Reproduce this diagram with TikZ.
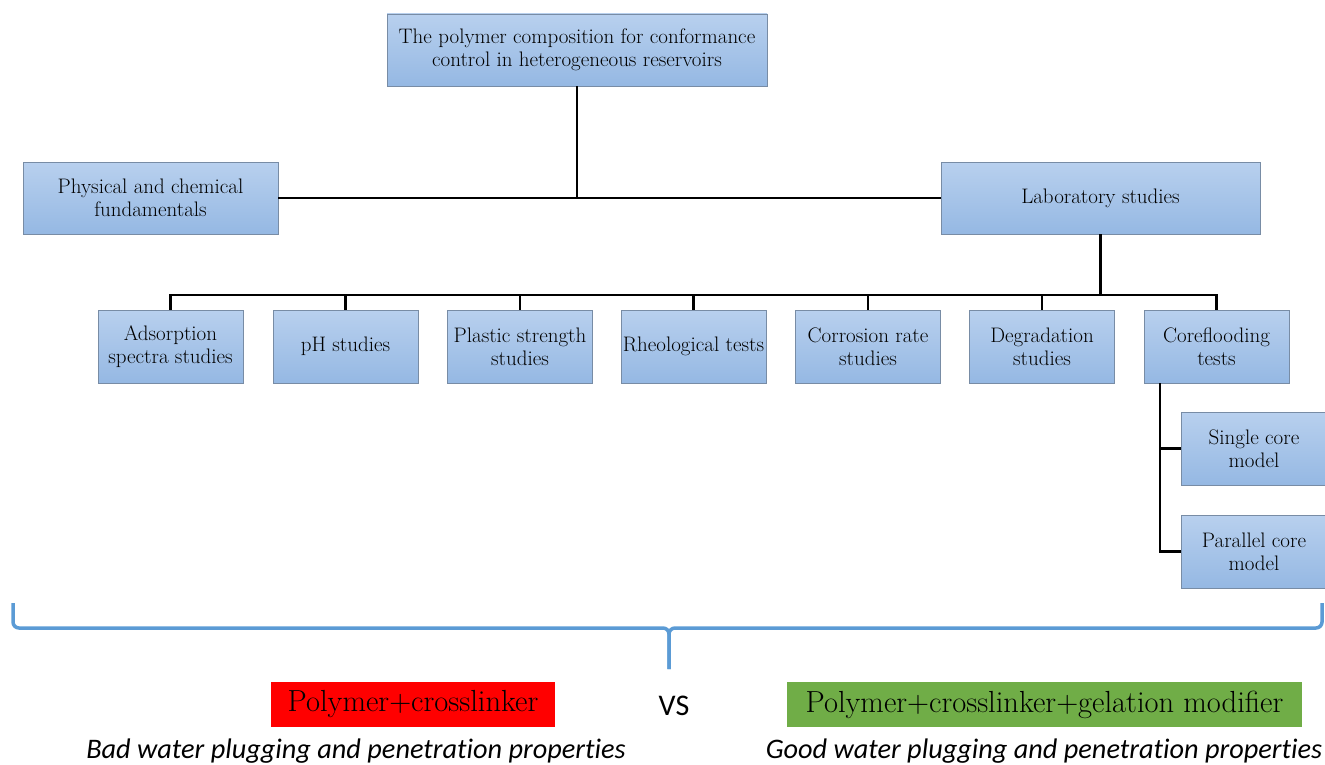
\documentclass[tikz,border=0pt]{standalone}
\usepackage{fontspec}
\setsansfont{Carlito}[Ligatures=NoCommon]
\usetikzlibrary{positioning}

\definecolor{boxtop}{RGB}{184,208,238}
\definecolor{boxbot}{RGB}{149,184,227}
\definecolor{boxline}{RGB}{120,140,165}
\definecolor{bracecol}{RGB}{91,155,213}
\definecolor{badcol}{RGB}{255,0,0}
\definecolor{goodcol}{RGB}{112,173,71}

\tikzset{
  box/.style={draw=boxline, line width=0.8pt, top color=boxtop, bottom color=boxbot,
    align=center, inner sep=0pt, minimum width=145pt, minimum height=73pt,
    font=\fontsize{21}{23}\selectfont},
  link/.style={line width=2.6pt, black},
  bracelink/.style={line width=3.5pt, bracecol, rounded corners=6pt},
  verdict/.style={inner sep=0pt, minimum height=45pt, font=\fontsize{30.5}{34}\selectfont},
  note/.style={inner sep=0pt, font=\sffamily\itshape\fontsize{28.3}{32}\selectfont}
}

\begin{document}
\begin{tikzpicture}[x=1pt,y=-1pt]
  \useasboundingbox (0,0) rectangle (1325,765);

  % top levels
  \node[box, minimum width=380pt, minimum height=72pt] (top) at (577,50)
    {The polymer composition for conformance\\control in heterogeneous reservoirs};
  \node[box, minimum width=255pt, minimum height=72pt] (phys) at (150.5,198)
    {Physical and chemical\\fundamentals};
  \node[box, minimum width=319pt, minimum height=72pt] (lab) at (1100.5,198)
    {Laboratory studies};

  % laboratory studies
  \node[box] (ads)   at (170.5,346.5) {Adsorption\\spectra studies};
  \node[box] (ph)    at (345.5,346.5) {pH studies};
  \node[box] (plast) at (520,346.5)   {Plastic strength\\studies};
  \node[box] (rheo)  at (693.5,346.5) {Rheological tests};
  \node[box] (corr)  at (868,346.5)   {Corrosion rate\\studies};
  \node[box] (degr)  at (1042,346.5)  {Degradation\\studies};
  \node[box] (core)  at (1216.5,346.5){Coreflooding\\tests};

  % core models
  \node[box, minimum width=146pt] (single)   at (1254,448.5) {Single core\\model};
  \node[box, minimum width=146pt] (parallel) at (1254,551.5) {Parallel core\\model};

  % connectors
  \draw[link] (phys.east) -- (lab.west);
  \draw[link] (top.south) -- (top.south |- phys.east);
  \coordinate (bus) at (0,295);
  \draw[link] (lab.south) -- (lab.south |- bus);
  \draw[link] (ads.north) -- (ads.north |- bus) -- (core.north |- bus) -- (core.north);
  \foreach \n in {ph,plast,rheo,corr,degr}
    \draw[link] (\n.north) -- (\n.north |- bus);
  \coordinate (corestem) at (1160,383);
  \draw[link] (corestem) |- (parallel.west);
  \draw[link] (corestem |- single.west) -- (single.west);

  % brace
  \coordinate (tip) at (669,669);
  \draw[bracelink] (13,603) |- (tip |- 0,628) -- (tip);
  \draw[bracelink] (1322,603) |- (tip |- 0,628) -- (tip);

  % comparison
  \node[verdict, fill=badcol, minimum width=284pt] (bad) at (413,704.5) {Polymer+crosslinker};
  \node[verdict, font=\sffamily\fontsize{30}{34}\selectfont] (vs) at (674,706) {VS};
  \node[verdict, fill=goodcol, minimum width=515pt] (good) at (1044.5,704.5)
    {Polymer+crosslinker+gelation modifier};
  \node[note] (badnote)  at (356,751)  {Bad water plugging and penetration properties};
  \node[note] (goodnote) at (1044,751) {Good water plugging and penetration properties};
\end{tikzpicture}
\end{document}
